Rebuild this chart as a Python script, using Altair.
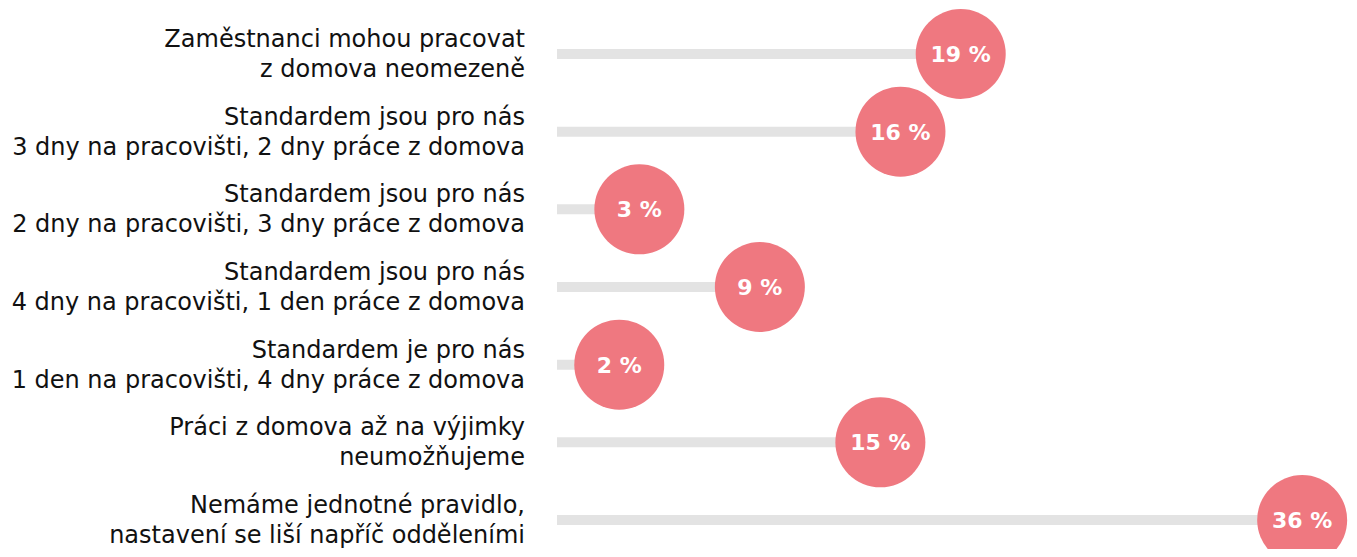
import altair as alt
import pandas as pd

categories = [
    "Zaměstnanci mohou pracovat\nz domova neomezeně",
    "Standardem jsou pro nás\n3 dny na pracovišti, 2 dny práce z domova",
    "Standardem jsou pro nás\n2 dny na pracovišti, 3 dny práce z domova",
    "Standardem jsou pro nás\n4 dny na pracovišti, 1 den práce z domova",
    "Standardem je pro nás\n1 den na pracovišti, 4 dny práce z domova",
    "Práci z domova až na výjimky\nneumožňujeme",
    "Nemáme jednotné pravidlo,\nnastavení se liší napříč odděleními",
]
values = [19, 16, 3, 9, 2, 15, 36]

df = pd.DataFrame({
    "cat": categories,
    "value": values,
    "label": [f"{v} %" for v in values],
})

X_MIN = -1.1
X_MAX = 38.73

xscale = alt.Scale(domain=[X_MIN, X_MAX], range=[549, 1349], nice=False, zero=False)
yscale = alt.Scale(type="point", domain=categories, range=[46, 512], padding=0)

base = alt.Chart(df).encode(
    y=alt.Y("cat:N", scale=yscale, axis=None, sort=categories),
)

bars = base.mark_rule(color="#e3e3e3", strokeWidth=10).encode(
    x=alt.X("value:Q", scale=xscale, axis=None),
    x2=alt.datum(X_MIN),
)

circles = base.mark_circle(size=8100, color="#EF7880", opacity=1).encode(
    x=alt.X("value:Q", scale=xscale, axis=None),
)

pct = base.mark_text(
    color="white", fontSize=22, fontWeight="bold", font="DejaVu Sans",
    align="center", baseline="middle", dy=1,
).encode(
    x=alt.X("value:Q", scale=xscale, axis=None),
    text="label:N",
)

labels = base.mark_text(
    align="right", baseline="middle", fontSize=24, font="DejaVu Sans",
    color="#111111", lineBreak="\n", lineHeight=30, dy=-14,
).encode(
    x=alt.value(517),
    text="cat:N",
)

chart = alt.layer(bars, circles, pct, labels).properties(
    width=1341, height=541, padding=0,
    autosize=alt.AutoSizeParams(type="none"),
).configure_view(stroke=None)

chart.save("out.html", embed_options={"renderer": "svg", "actions": False})
